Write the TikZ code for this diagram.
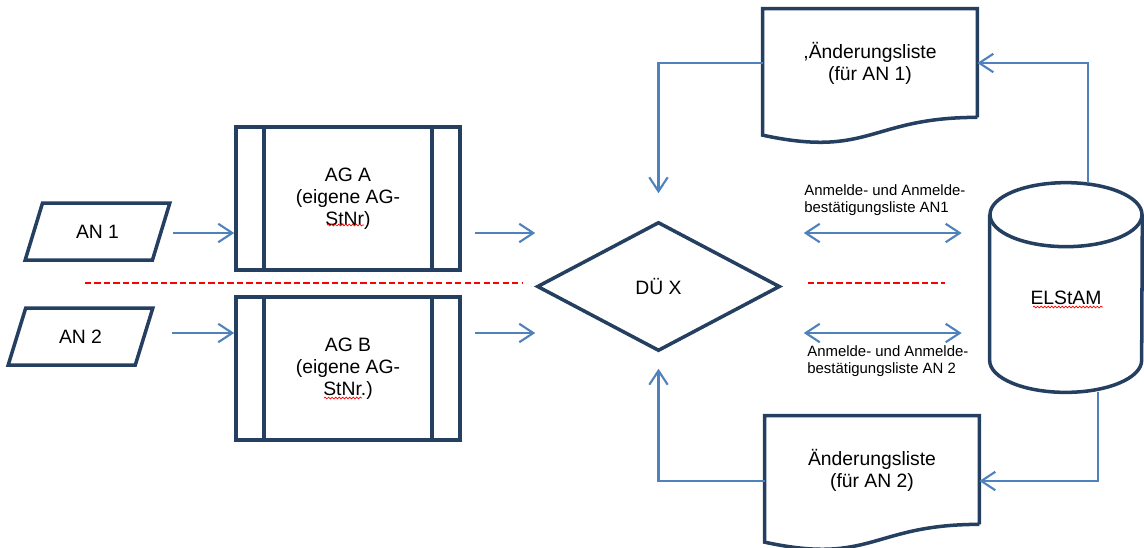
\documentclass[tikz,border=0pt]{standalone}
\usepackage{fontspec}
\setmainfont{Liberation Sans}
\usetikzlibrary{shapes.geometric,arrows.meta,calc,decorations.pathmorphing}
\definecolor{framenavy}{RGB}{36,63,96}
\definecolor{flowblue}{RGB}{79,129,189}
\definecolor{sepred}{RGB}{255,0,0}
\tikzset{
  shape line/.style={draw=framenavy, line width=2pt},
  inputbox/.style={shape line, trapezium, trapezium left angle=63, trapezium right angle=117,
    trapezium stretches=true, minimum width=29mm, minimum height=11.4mm, inner sep=0pt},
  procbox/.style={shape line, rectangle, minimum width=44.8mm, minimum height=28.6mm, align=center},
  docbox/.style={rectangle, minimum width=42.8mm, minimum height=21.6mm, align=center},
  dbbox/.style={rectangle, minimum width=30.4mm, minimum height=41.8mm},
  flow/.style={draw=flowblue, line width=1.2pt, -{Straight Barb[length=8pt,width=10.5pt]}},
  flow both/.style={flow, {Straight Barb[length=8pt,width=10.5pt]}-{Straight Barb[length=8pt,width=10.5pt]}},
  separator/.style={draw=sepred, line width=1.1pt, dash pattern=on 3.6pt off 1.8pt},
  smalltext/.style={font=\fontsize{8.5}{9.8}\selectfont, align=left, inner sep=0pt},
  spelling/.style={draw=sepred, line width=0.4pt, decorate,
    decoration={snake, amplitude=0.5pt, segment length=2pt}}
}
\begin{document}
\begin{tikzpicture}[x=0.2mm, y=-0.2mm, font=\fontsize{11}{12.5}\selectfont]
\useasboundingbox (0,0) rectangle (1144,547);
\coordinate (rowa) at (0,233);
\coordinate (rowb) at (0,333);

\node[inputbox] (an1) at (97.5,231.5) {AN 1};
\node[inputbox] (an2) at (80.5,336.5) {AN 2};
\node[procbox] (aga) at (348,198.5) {AG A\\(eigene AG-\\StNr)};
\node[procbox] (agb) at (348,368.5) {AG B\\(eigene AG-\\StNr.)};
\node[diamond, shape line, minimum width=48.6mm, minimum height=25.8mm, inner sep=0pt] (dux) at (658.5,286.5) {DÜ X};
\node[docbox] (doc1) at (870,63) {,Änderungsliste\\(für AN 1)};
\node[docbox] (doc2) at (872,470) {Änderungsliste\\(für AN 2)};
\node[dbbox] (db) at (1066,287.5) {};
\node (dbtext) at ($(db)+(0,10.5)$) {ELStAM};
\node[smalltext, anchor=west] (lbla) at (804,200) {Anmelde- und Anmelde-\\bestätigungsliste AN1};
\node[smalltext, anchor=west] (lblb) at (807,361) {Anmelde- und Anmelde-\\bestätigungsliste AN 2};

\foreach \n in {aga,agb}
  \draw[shape line] ($(\n.north west)+(30,0)$) -- ($(\n.south west)+(30,0)$)
    ($(\n.north east)+(-30,0)$) -- ($(\n.south east)+(-30,0)$);
\foreach \n in {doc1,doc2}
  \draw[shape line] (\n.south east) -- (\n.north east) -- (\n.north west) -- ($(\n.south west)+(0,17.8)$)
    .. controls ($(\n.south)+(0,41)$) and (\n.south) .. (\n.south east);
\draw[shape line] ($(db.north)+(0,32)$) ellipse [x radius=15.2mm, y radius=6.4mm];
\draw[shape line] ($(db.north west)+(0,32)$) -- ($(db.south west)+(0,-32)$)
  arc [start angle=180, end angle=360, x radius=15.2mm, y radius=6.4mm] -- ($(db.north east)+(0,32)$);

\draw[flow, shorten <=2mm] (an1.east |- rowa) -- (aga.west |- rowa);
\draw[flow, shorten <=5.2mm] (an2.east |- rowb) -- (agb.west |- rowb);
\draw[flow, shorten <=2.6mm] (aga.east |- rowa) -- (dux.west |- rowa);
\draw[flow, shorten <=2.6mm] (agb.east |- rowb) -- (dux.west |- rowb);
\draw[flow both, shorten <=4.4mm, shorten >=5.6mm] (dux.east |- rowa) -- (db.west |- rowa);
\draw[flow both, shorten <=4.4mm, shorten >=5.6mm] (dux.east |- rowb) -- (db.west |- rowb);
\draw[flow, shorten >=5.4mm] (doc1.west) -| (dux.north);
\draw[flow] ($(db.north)+(22,0)$) |- (doc1.east);
\draw[flow] ($(db.south)+(32,0)$) |- ($(doc2.east)+(0,11)$);
\draw[flow, shorten >=3.2mm] ($(doc2.west)+(0,11)$) -| (dux.south);

\draw[separator] (85,283) -- (522,283);
\draw[separator] (808,283) -- (945,283);

\draw[spelling] (327,225) -- (364,225);
\draw[spelling] (324,398) -- (362,398);
\draw[spelling] (1033,307) -- (1103,307);
\end{tikzpicture}
\end{document}
